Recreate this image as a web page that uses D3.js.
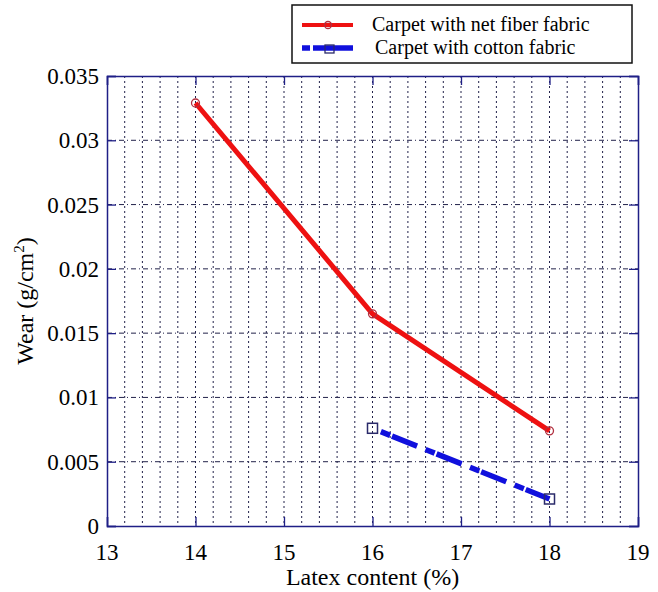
<!DOCTYPE html>
<html>
<head>
<meta charset="utf-8">
<script src="https://cdn.jsdelivr.net/npm/d3@7"></script>
<style>
  body { margin: 0; background: #fff; }
  text { font-family: "Liberation Serif", "DejaVu Serif", "Times New Roman", serif; }
</style>
</head>
<body>
<div id="chart"></div>
<script>
// data
const latex = [14, 16, 18];
const netFiber = [0.0329, 0.0165, 0.0074];
const cottonX = [16, 18];
const cotton = [0.0076, 0.0021];
const xTicks = [13, 14, 15, 16, 17, 18, 19];
const yTicks = [0, 0.005, 0.01, 0.015, 0.02, 0.025, 0.03, 0.035];
const yTickLabels = ["0", "0.005", "0.01", "0.015", "0.02", "0.025", "0.03", "0.035"];
const seriesNames = ["Carpet with net fiber fabric", "Carpet with cotton fabric"];

const width = 658, height = 592;
const margin = {top: 76, right: 20, bottom: 66, left: 107};
const axisColor = "#1f1f86";
const serif = "Liberation Serif, DejaVu Serif, serif";

const svg = d3.select("#chart").append("svg")
    .attr("width", width)
    .attr("height", height)
    .attr("font-family", serif);

const x = d3.scaleLinear().domain([13, 19]).range([margin.left, width - margin.right]);
const y = d3.scaleLinear().domain([0, 0.035]).range([height - margin.bottom, margin.top]);

const plot = svg.append("g");

// vertical dotted grid every 0.2
const minorX = d3.range(13.2, 18.95, 0.2);
plot.append("g")
    .selectAll("line")
    .data(minorX)
    .join("line")
    .attr("x1", d => x(d)).attr("x2", d => x(d))
    .attr("y1", y(0.035)).attr("y2", y(0))
    .attr("stroke", "#22224a")
    .attr("stroke-width", 1)
    .attr("stroke-dasharray", "2,3");

// horizontal dash-dot grid at major y ticks
plot.append("g")
    .selectAll("line")
    .data(yTicks.slice(1, -1))
    .join("line")
    .attr("x1", x(13)).attr("x2", x(19))
    .attr("y1", d => y(d)).attr("y2", d => y(d))
    .attr("stroke", "#22224a")
    .attr("stroke-width", 1)
    .attr("stroke-dasharray", "5,3,1,3");

// axes box with inward ticks
const tickLen = 9;
const bottomAxis = d3.axisBottom(x).tickValues(xTicks).tickSize(-tickLen).tickFormat("");
const topAxis = d3.axisTop(x).tickValues(xTicks).tickSize(-tickLen).tickFormat("");
const leftAxis = d3.axisLeft(y).tickValues(yTicks).tickSize(-tickLen).tickFormat("");
const rightAxis = d3.axisRight(y).tickValues(yTicks).tickSize(-tickLen).tickFormat("");

[[bottomAxis, `translate(0,${y(0)})`], [topAxis, `translate(0,${y(0.035)})`],
 [leftAxis, `translate(${x(13)},0)`], [rightAxis, `translate(${x(19)},0)`]].forEach(([ax, tr]) => {
    const g = svg.append("g").attr("transform", tr).call(ax);
    g.select(".domain").attr("stroke", axisColor).attr("stroke-width", 1.5);
    g.selectAll(".tick line").attr("stroke", axisColor).attr("stroke-width", 1.3);
});

// tick labels
svg.append("g")
    .selectAll("text")
    .data(xTicks)
    .join("text")
    .attr("x", d => x(d))
    .attr("y", 560)
    .attr("text-anchor", "middle")
    .attr("font-family", serif)
    .attr("font-size", 23)
    .text(d => d);

svg.append("g")
    .selectAll("text")
    .data(yTicks)
    .join("text")
    .attr("x", x(13) - 8)
    .attr("y", d => y(d))
    .attr("dy", "0.35em")
    .attr("text-anchor", "end")
    .attr("font-family", serif)
    .attr("font-size", 23)
    .text((d, i) => yTickLabels[i]);

// axis titles
svg.append("text")
    .attr("x", (x(13) + x(19)) / 2)
    .attr("y", 585)
    .attr("text-anchor", "middle")
    .attr("font-family", serif)
    .attr("font-size", 24)
    .text("Latex content (%)");

const yl = svg.append("text")
    .attr("transform", `translate(33,${(y(0) + y(0.035)) / 2}) rotate(-90)`)
    .attr("text-anchor", "middle")
    .attr("font-family", serif)
    .attr("font-size", 24);
yl.append("tspan").text("Wear (g/cm");
yl.append("tspan").attr("font-size", 15).attr("dy", -9).text("2");
yl.append("tspan").attr("dy", 9).text(")");

// series
const line = d3.line().x(d => x(d[0])).y(d => y(d[1]));
const redPts = latex.map((d, i) => [d, netFiber[i]]);
const bluePts = cottonX.map((d, i) => [d, cotton[i]]);

svg.append("path")
    .attr("d", line(redPts))
    .attr("fill", "none")
    .attr("stroke", "#ee1111")
    .attr("stroke-width", 5);

svg.append("path")
    .attr("d", line(bluePts))
    .attr("fill", "none")
    .attr("stroke", "#1010dd")
    .attr("stroke-width", 5.5)
    .attr("stroke-dasharray", "10,2,27,9")
    .attr("stroke-dashoffset", 39);

svg.append("g")
    .selectAll("circle")
    .data(redPts)
    .join("circle")
    .attr("cx", d => x(d[0])).attr("cy", d => y(d[1]))
    .attr("r", 4)
    .attr("fill", "none")
    .attr("stroke", "#b03040")
    .attr("stroke-width", 1.3);

svg.append("g")
    .selectAll("rect")
    .data(bluePts)
    .join("rect")
    .attr("x", d => x(d[0]) - 5).attr("y", d => y(d[1]) - 5)
    .attr("width", 10).attr("height", 10)
    .attr("fill", "none")
    .attr("stroke", "#2a2a6a")
    .attr("stroke-width", 1.5);

// legend
const legend = svg.append("g");
legend.append("rect")
    .attr("x", 292).attr("y", 5)
    .attr("width", 340).attr("height", 58)
    .attr("fill", "#fff")
    .attr("stroke", "#111")
    .attr("stroke-width", 1.5);

legend.append("line")
    .attr("x1", 302).attr("x2", 353).attr("y1", 25).attr("y2", 25)
    .attr("stroke", "#ee1111").attr("stroke-width", 4);
legend.append("circle")
    .attr("cx", 328).attr("cy", 25).attr("r", 3.5)
    .attr("fill", "none").attr("stroke", "#b03040").attr("stroke-width", 1.3);

legend.append("line")
    .attr("x1", 313).attr("x2", 353).attr("y1", 48).attr("y2", 48)
    .attr("stroke", "#1010dd").attr("stroke-width", 5.5);
legend.append("line")
    .attr("x1", 302).attr("x2", 310).attr("y1", 48).attr("y2", 48)
    .attr("stroke", "#1010dd").attr("stroke-width", 5.5);
legend.append("rect")
    .attr("x", 325).attr("y", 45).attr("width", 9).attr("height", 8)
    .attr("fill", "none").attr("stroke", "#2a2a6a").attr("stroke-width", 1.3);

legend.selectAll("text.lbl")
    .data(seriesNames)
    .join("text")
    .attr("class", "lbl")
    .attr("x", (d, i) => i === 0 ? 372 : 375)
    .attr("y", (d, i) => i === 0 ? 31 : 54)
    .attr("font-family", serif)
    .attr("font-size", 20)
    .text(d => d);
</script>
</body>
</html>
